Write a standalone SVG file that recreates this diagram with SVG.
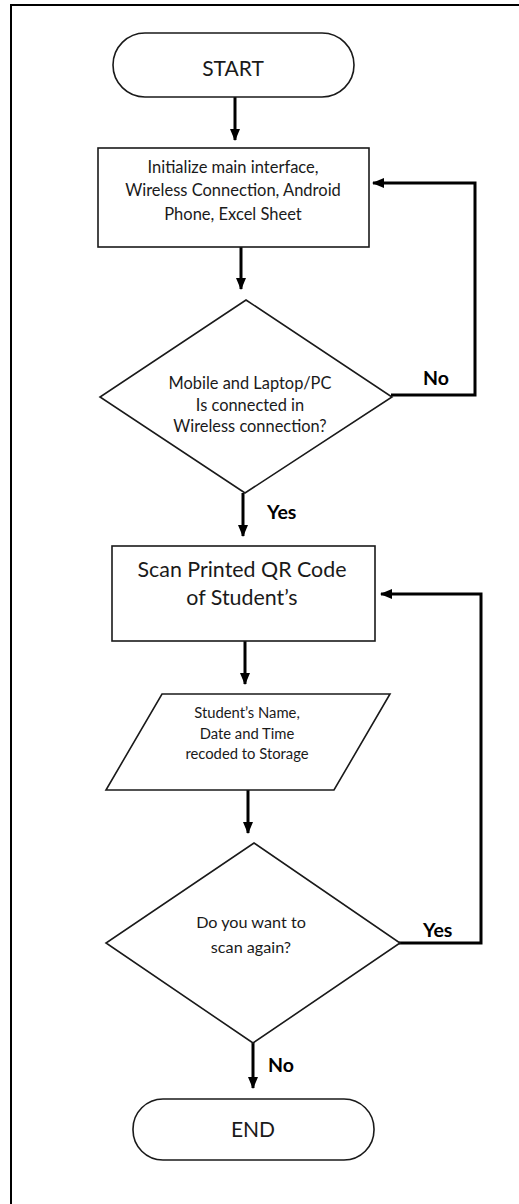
<svg xmlns="http://www.w3.org/2000/svg" width="519" height="1204" viewBox="0 0 519 1204">
  <defs>
    <style>
      .shape { fill: #ffffff; stroke: #1a1a1a; stroke-width: 1.6; }
      .flow { fill: none; stroke: #000000; stroke-width: 3; }
      .label { font-family: Lato, "Open Sans", "Liberation Sans", sans-serif; fill: #1a1a1a; text-anchor: middle; }
      .tag { font-family: Lato, "Open Sans", "Liberation Sans", sans-serif; font-weight: bold; fill: #000000; font-size: 19.5px; }
    </style>
    <marker id="arrow" viewBox="0 0 12 10" refX="11" refY="5" markerWidth="12" markerHeight="10" markerUnits="userSpaceOnUse" orient="auto">
      <path d="M0,0 L12,5 L0,10 Z" fill="#000000"/>
    </marker>
  </defs>

  <!-- frame: top and left rules only -->
  <g id="frame">
    <line x1="11" y1="5" x2="519" y2="5" stroke="#000" stroke-width="2"/>
    <line x1="11" y1="4" x2="11" y2="1204" stroke="#000" stroke-width="2"/>
  </g>

  <g id="connectors">
    <line class="flow" x1="235" y1="97" x2="235" y2="140" marker-end="url(#arrow)"/>
    <line class="flow" x1="241" y1="247" x2="241" y2="289" marker-end="url(#arrow)"/>
    <polyline class="flow" points="391,395 475,395 475,183 373,183" marker-end="url(#arrow)"/>
    <line class="flow" x1="243" y1="493" x2="243" y2="536" marker-end="url(#arrow)"/>
    <line class="flow" x1="245" y1="641" x2="245" y2="684" marker-end="url(#arrow)"/>
    <line class="flow" x1="248" y1="790" x2="248" y2="833" marker-end="url(#arrow)"/>
    <polyline class="flow" points="399,943 481,943 481,594 381,594" marker-end="url(#arrow)"/>
    <line class="flow" x1="253" y1="1043" x2="253" y2="1088" marker-end="url(#arrow)"/>
    <text class="tag" x="423" y="385">No</text>
    <text class="tag" x="267" y="519">Yes</text>
    <text class="tag" x="423" y="937">Yes</text>
    <text class="tag" x="268" y="1072">No</text>
  </g>

  <g id="start">
    <rect class="shape" x="113" y="33" width="241" height="64" rx="32" ry="32"/>
    <text class="label" x="233" y="76" font-size="21">START</text>
  </g>

  <g id="init">
    <rect class="shape" x="98" y="148" width="271" height="99"/>
    <text class="label" x="233" y="173" font-size="16.5">Initialize main interface,</text>
    <text class="label" x="233" y="196" font-size="16.5">Wireless Connection, Android</text>
    <text class="label" x="233" y="220" font-size="16.5">Phone, Excel Sheet</text>
  </g>

  <g id="check-connection">
    <polygon class="shape" points="246,300 392,397 245,493 100,397"/>
    <text class="label" x="250" y="389" font-size="16.4">Mobile and Laptop/PC</text>
    <text class="label" x="250" y="411" font-size="16.4">Is connected in</text>
    <text class="label" x="250" y="432" font-size="16.4">Wireless connection?</text>
  </g>

  <g id="scan">
    <rect class="shape" x="112" y="546" width="263" height="95"/>
    <text class="label" x="242" y="577" font-size="21.4">Scan Printed QR Code</text>
    <text class="label" x="242" y="605" font-size="21.4">of Student’s</text>
  </g>

  <g id="record">
    <polygon class="shape" points="162,694 390,694 334,790 106,790"/>
    <text class="label" x="247" y="718" font-size="14.8">Student’s Name,</text>
    <text class="label" x="247" y="739" font-size="14.8">Date and Time</text>
    <text class="label" x="247" y="759" font-size="14.8">recoded to Storage</text>
  </g>

  <g id="scan-again">
    <polygon class="shape" points="254,843 400,943 253,1043 106,943"/>
    <text class="label" x="251" y="928" font-size="16.2">Do you want to</text>
    <text class="label" x="251" y="953" font-size="16.2">scan again?</text>
  </g>

  <g id="end">
    <rect class="shape" x="133" y="1099" width="241" height="61" rx="30" ry="30"/>
    <text class="label" x="253" y="1137" font-size="21">END</text>
  </g>
</svg>
